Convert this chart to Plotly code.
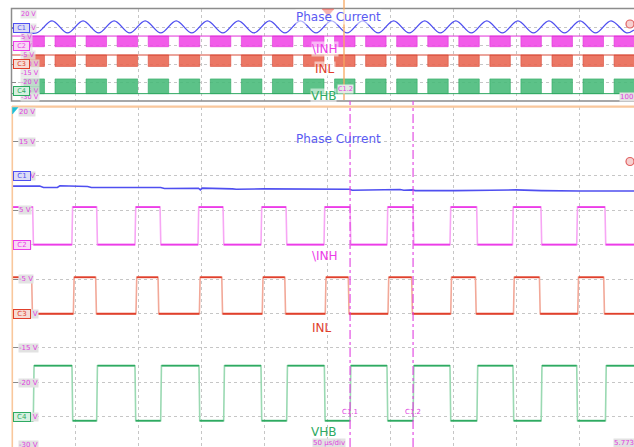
import plotly.graph_objects as go

W, H = 634, 447

# ---------------- main panel data (time in µs, 50 µs/div) ----------------
pc_t = [0, 22, 25, 36, 38, 47, 49, 60, 63, 80, 100, 118, 121, 148, 149.5, 151, 175, 178, 200, 215,
        220, 250, 268, 270, 285, 300, 308, 311, 318, 320, 350, 352, 380, 400, 420, 430, 450, 470, 494]
pc_v = [8.5, 8.5, 8.3, 8.3, 8.55, 8.55, 8.45, 8.45, 8.3, 8.3, 8.3, 8.3, 8.15, 8.2, 7.95, 8.2, 8.1, 8.05, 8.1, 8.1,
        8.0, 8.05, 8.05, 7.9, 7.95, 8.0, 8.0, 7.9, 7.95, 7.85, 7.95, 7.85, 7.9, 7.95, 7.85, 7.8, 7.8, 7.8, 7.78]

inh_rise = [47.5, 97.6, 147.6, 197.6, 247.6, 297.6, 347.6, 397.2, 448.2]
inh_fall = [16.4, 67.2, 117.5, 167.5, 217.5, 268.3, 318.3, 368.8, 419.8, 470.6]
inh_hi, inh_lo = 5.45, 0.0

inl_rise = [48.7, 98.4, 148.7, 198.6, 248.6, 298.4, 348.2, 398.0, 449.0]
inl_fall = [15.6, 66.4, 115.9, 166.5, 216.5, 266.9, 317.2, 367.8, 418.6, 469.6]
inl_hi, inl_lo = -4.75, -10.05

vhb_rise = [16.9, 67.2, 118.0, 168.0, 218.0, 268.3, 318.3, 369.0, 420.0, 471.0]
vhb_fall = [47.6, 97.6, 148.4, 197.6, 247.9, 297.6, 347.6, 397.6, 448.2]
vhb_hi, vhb_lo = -17.6, -25.6

cursor_t = [268.3, 318.3]
cursor_names = ["C1.1", "C1.2"]

# ---------------- overview panel data (time in ms, 100 ms/div) ----------------
ov_t = [0, 38.9, 63.5, 88.2, 112.8, 137.5, 162.1, 186.8, 211.4, 236.1, 260.7, 285.4, 310.0, 334.7,
        359.3, 384.0, 408.6, 433.3, 457.9, 482.6, 507.2, 531.9, 556.5, 581.2, 605.8, 630.5, 655.1,
        679.8, 704.4, 729.1, 753.7, 778.4, 803.0, 827.7, 852.3, 877.0, 901.6, 926.3, 950.9, 975.6, 987.3]
ov_v = [9.7, 7.0, 13.6, 7.0, 13.6, 7.0, 13.6, 7.0, 13.6, 7.0, 13.6, 7.0, 13.6, 7.0,
        13.6, 7.0, 13.6, 7.0, 13.6, 7.0, 13.6, 7.0, 13.6, 7.0, 13.6, 7.0, 13.6,
        7.0, 13.6, 7.0, 13.6, 7.0, 13.6, 7.0, 13.6, 7.0, 13.6, 7.0, 13.6, 7.0, 8.6]

blk_start = [19.0, 68.3, 117.6, 166.9, 216.2, 265.5, 314.8, 364.1, 413.4, 462.7, 512.0, 561.3,
             610.6, 659.9, 709.2, 758.5, 807.8, 857.1, 906.4, 955.7]
blk_end = [51.5, 100.8, 150.1, 199.4, 248.7, 298.0, 347.3, 396.6, 445.9, 495.2, 544.5, 593.8,
           643.1, 692.4, 741.7, 791.0, 840.3, 889.6, 938.9, 988.2]
ov_inh = (5.3, -0.5)
ov_inl = (-5.0, -11.2)
ov_vhb = (-18.0, -26.0)

main_labels = ["20 V", "15 V", "10 V", "5 V", "0 V", "-5 V", "-10 V", "-15 V", "-20 V", "-25 V", "-30 V"]

C_BLUE = "#4f4ff0"
C_PINK = "#ec3ce8"
C_RED = "#e0402c"
C_GREEN = "#2eaa62"
C_LBL = "#e040e0"


def px(x):
    return x / W


def py(y):
    return 1 - y / H


def square(rise, fall, start_high, hi, lo, tmax, slope=0.6):
    ev = sorted([(t, 1) for t in rise] + [(t, 0) for t in fall])
    cur = hi if start_high else lo
    xs, ys = [0], [cur]
    for t, k in ev:
        new = hi if k else lo
        xs += [t, t + slope]
        ys += [cur, new]
        cur = new
    xs.append(tmax)
    ys.append(cur)
    hx, hy = [], []
    for i in range(len(xs) - 1):
        if ys[i] == ys[i + 1]:
            hx += [xs[i], xs[i + 1], None]
            hy += [ys[i], ys[i + 1], None]
    return xs, ys, hx, hy


fig = go.Figure()
TMAX = 493.65
TMAX2 = 987.3

# main traces
fig.add_trace(go.Scatter(x=pc_t, y=pc_v, mode="lines", line=dict(color=C_BLUE, width=1.6),
                         xaxis="x", yaxis="y", hoverinfo="skip"))
for rise, fall, sh, hi, lo, col, light in [
    (inh_rise, inh_fall, True, inh_hi, inh_lo, C_PINK, "#f7a6f4"),
    (inl_rise, inl_fall, True, inl_hi, inl_lo, C_RED, "#f2a898"),
    (vhb_rise, vhb_fall, False, vhb_hi, vhb_lo, C_GREEN, "#9ad9b2"),
]:
    xs, ys, hx, hy = square(rise, fall, sh, hi, lo, TMAX)
    fig.add_trace(go.Scatter(x=xs, y=ys, mode="lines", line=dict(color=light, width=1.6),
                             xaxis="x", yaxis="y", hoverinfo="skip"))
    fig.add_trace(go.Scatter(x=hx, y=hy, mode="lines", line=dict(color=col, width=1.8),
                             xaxis="x", yaxis="y", hoverinfo="skip", connectgaps=False))

# overview traces
fig.add_trace(go.Scatter(x=ov_t, y=ov_v, mode="lines", line=dict(color=C_BLUE, width=1.3, shape="spline", smoothing=1.0),
                         xaxis="x2", yaxis="y2", hoverinfo="skip"))
for (top, bot), fillc, linec, base in [
    (ov_inh, "rgba(240,70,230,0.88)", "#e030d8", "top"),
    (ov_inl, "rgba(232,100,80,0.88)", "#d84a38", "top"),
    (ov_vhb, "rgba(70,185,120,0.88)", "#2ea862", "bot"),
]:
    bx, by = [], []
    for s, e in zip(blk_start, blk_end):
        bx += [s, s, e, e, s, None]
        by += [bot, top, top, bot, bot, None]
    fig.add_trace(go.Scatter(x=bx, y=by, mode="lines", fill="toself", fillcolor=fillc,
                             line=dict(color=linec, width=0.6), xaxis="x2", yaxis="y2", hoverinfo="skip"))
    lvl = top if base == "top" else bot
    fig.add_trace(go.Scatter(x=[0, TMAX2], y=[lvl, lvl], mode="lines", line=dict(color=linec, width=1),
                             xaxis="x2", yaxis="y2", hoverinfo="skip"))

grid = dict(showgrid=True, gridcolor="#c6c6c6", griddash="dot", gridwidth=1, zeroline=False,
            showticklabels=False, showline=False)
fig.update_layout(
    width=W, height=H, margin=dict(l=0, r=0, t=0, b=0), showlegend=False,
    paper_bgcolor="white", plot_bgcolor="white",
    xaxis=dict(domain=[12 / W, 1], range=[0, TMAX], dtick=50, tick0=0, anchor="y", **grid),
    yaxis=dict(domain=[0, py(107)], range=[-29.42, 20], dtick=5, tick0=0, anchor="x",
               ticks="inside", ticklen=6, tickcolor="#8a8a8a", **grid),
    xaxis2=dict(domain=[12 / W, 1], range=[0, TMAX2], dtick=100, tick0=0, anchor="y2", **grid),
    yaxis2=dict(domain=[py(101), py(9)], range=[-30, 20], dtick=10, tick0=0, anchor="x2",
                ticks="inside", ticklen=4, tickcolor="#8a8a8a", **grid),
)

shapes = []
# overview frame
shapes.append(dict(type="rect", xref="paper", yref="paper", x0=px(11.5), x1=px(640), y0=py(101), y1=py(8.5),
                   line=dict(color="#8c8c8c", width=1.5), fillcolor="rgba(0,0,0,0)"))
# orange top line & left line of main panel
shapes.append(dict(type="line", xref="paper", yref="paper", x0=px(12), x1=1, y0=py(106.6), y1=py(106.6),
                   line=dict(color="#f9c79c", width=2.2)))
shapes.append(dict(type="line", xref="paper", yref="paper", x0=px(12.3), x1=px(12.3), y0=0, y1=py(106),
                   line=dict(color="#f9c79c", width=1.6)))
# cursors
for ct in cursor_t:
    shapes.append(dict(type="line", xref="x", yref="paper", x0=ct, x1=ct, y0=0, y1=py(101),
                       line=dict(color=C_LBL, width=1.1, dash="dashdot")))
# overview position line
shapes.append(dict(type="line", xref="paper", yref="paper", x0=px(344), x1=px(344), y0=py(100), y1=1,
                   line=dict(color="#f7a860", width=1.3)))
# trigger triangle
shapes.append(dict(type="path", xref="paper", yref="paper",
                   path=f"M {px(322)},{py(9)} L {px(334)},{py(9)} L {px(328)},{py(16)} Z",
                   fillcolor="#ea5a50", line=dict(color="#ea5a50", width=0.5)))
# cyan marker
shapes.append(dict(type="path", xref="paper", yref="paper",
                   path=f"M {px(12.5)},{py(107.5)} L {px(18)},{py(107.5)} L {px(12.5)},{py(114)} Z",
                   fillcolor="#1ec0d8", line=dict(color="#1ec0d8", width=0.5)))
# right level markers
for yy in [161.5, 24]:
    shapes.append(dict(type="circle", xref="paper", yref="paper", x0=px(626), x1=px(634),
                       y0=py(yy + 4), y1=py(yy - 4), fillcolor="#f6d0d0", line=dict(color="#e06060", width=1.2)))
fig.update_layout(shapes=shapes)

ann = []


def lab(x, y, text, size=7, color=C_LBL, bg="#e2e2e2", xa="left", **kw):
    ann.append(dict(x=px(x), y=py(y), xref="paper", yref="paper", text=text, showarrow=False,
                    xanchor=xa, yanchor="middle", font=dict(size=size, color=color, family="DejaVu Sans"),
                    bgcolor=bg, borderpad=0, **kw))


# main left scale labels
main_y = [112, 141.7, 176, 210.3, 244.7, 279.3, 313.7, 348.3, 382.8, 417, 444.5]
for t, yy in zip(main_labels, main_y):
    lab(18, yy, t)
# main channel badges
for name, yy, col, fill in [("C1", 176, C_BLUE, "#dcdcf6"), ("C2", 244.7, C_PINK, "#f8d8f6"),
                            ("C3", 313.7, C_RED, "#f6dcd6"), ("C4", 417, C_GREEN, "#d6f0e0")]:
    ann.append(dict(x=px(12.5), y=py(yy), xref="paper", yref="paper", text=name, showarrow=False,
                    xanchor="left", yanchor="middle", font=dict(size=7, color=col, family="DejaVu Sans"),
                    bgcolor=fill, bordercolor=col, borderwidth=1, borderpad=0, width=16))

# overview scale labels
ov_labels = ["20 V", "10 V", "5 V", "0 V", "-5 V", "-10 V", "-15 V", "-20 V", "-25 V", "-30 V"]
ov_y = [14, 27.5, 36.5, 46, 55, 64, 73, 82, 91, 97.5]
for t, yy in zip(ov_labels, ov_y):
    lab(20, yy, t, size=6.5, bg="rgba(226,226,226,0.75)")
for name, yy, col, fill in [("C1", 27.5, C_BLUE, "#dcdcf6"), ("C2", 46, C_PINK, "#f8d8f6"),
                            ("C3", 64, C_RED, "#f6dcd6"), ("C4", 91, C_GREEN, "#d6f0e0")]:
    ann.append(dict(x=px(12.5), y=py(yy), xref="paper", yref="paper", text=name, showarrow=False,
                    xanchor="left", yanchor="middle", font=dict(size=6.5, color=col, family="DejaVu Sans"),
                    bgcolor=fill, bordercolor=col, borderwidth=1, borderpad=0, width=15))

# channel names
for text, x1, y1, x2, y2, col in [("Phase Current", 338, 17, 338, 139, "#5a5af2"),
                                  ("\\INH", 325, 49, 325, 256, C_PINK),
                                  ("INL", 325, 69, 322, 328, C_RED),
                                  ("VHB", 323, 96, 323, 432, C_GREEN)]:
    for xx, yy, bg in [(x1, y1, "rgba(255,255,255,0.55)"), (x2, y2, "rgba(255,255,255,0)")]:
        ann.append(dict(x=px(xx), y=py(yy), xref="paper", yref="paper", text=text, showarrow=False,
                        xanchor="center", yanchor="middle",
                        font=dict(size=12, color=col, family="DejaVu Sans"), bgcolor=bg, borderpad=0))

# cursor labels
for ct, nm in zip(cursor_t, cursor_names):
    ann.append(dict(x=ct, y=py(412), xref="x", yref="paper", text=nm, showarrow=False,
                    xanchor="center", yanchor="middle", font=dict(size=7, color=C_LBL, family="DejaVu Sans")))
lab(337, 89, "C1.2", size=6.5, bg="rgba(240,240,240,0.9)")

# timebase labels
lab(329, 442.5, "50 µs/div", size=7, xa="center")
lab(613, 442.5, "5.773 s", size=7)
lab(619, 97, "100 ms/div", size=7)

fig.update_layout(annotations=ann)
fig.write_html("out.html", config={"displayModeBar": False},
               post_script="document.body.style.margin='0';document.body.style.overflow='hidden';")
